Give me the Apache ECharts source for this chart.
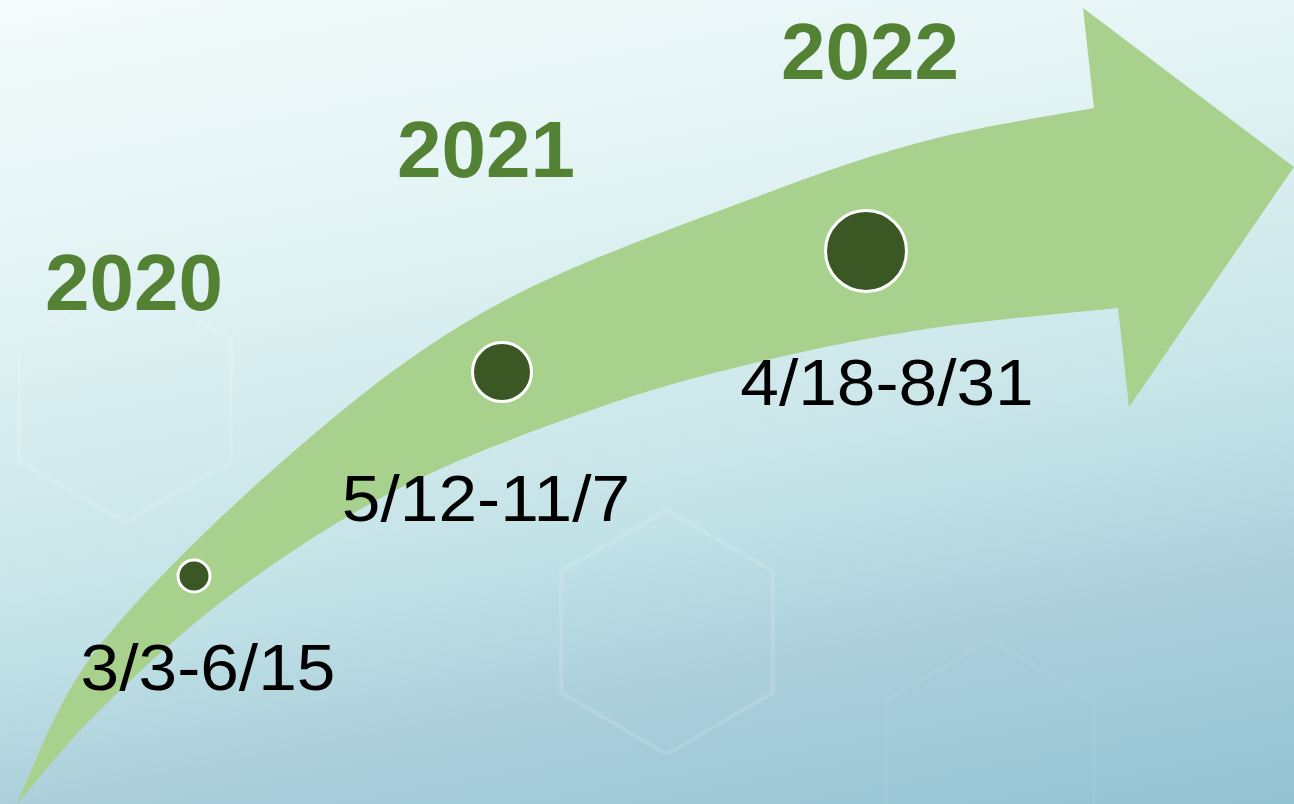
<!DOCTYPE html>
<html>
<head>
<meta charset="utf-8">
<script src="https://cdn.jsdelivr.net/npm/echarts@6/dist/echarts.min.js"></script>
<style>
html,body{margin:0;padding:0;width:1294px;height:804px;overflow:hidden;}
#chart{width:1294px;height:804px;}
</style>
</head>
<body>
<div id="chart"></div>
<script>
// ---- data ----
const years = ['2020', '2021', '2022'];
const dateRanges = ['3/3-6/15', '5/12-11/7', '4/18-8/31'];
// milestone positions on the timeline frame (x: 0-1294, y: 0-804 top-down)
const milestoneX = [194, 502, 866];
const milestoneY = [576, 372, 251];
// label anchor positions in the same frame
const yearLabelX = [134, 486, 870];
const yearLabelY = [288, 155, 57];
const dateLabelX = [208, 486, 887];
const dateLabelY = [672, 503, 387];

// ---- decoration shapes (frame coords) ----
const arrowUpperX = [17, 100, 300, 500, 767, 933, 1094];
const arrowUpperY = [803, 645, 446, 303, 193, 139, 108];
const arrowLowerX = [18, 100, 233, 400, 600, 767, 933, 1118];
const arrowLowerY = [803, 710, 593, 488, 407, 360, 328, 308];
const arrowHeadX = [1083, 1294, 1129];
const arrowHeadY = [8, 167, 407];
const hexCX = [125, 667, 990];
const hexCY = [400, 632, 760];
const hexR = [122, 122, 120];

// ---- styles ----
const markerSizes = [32, 59, 81];
const FONT = "'Liberation Sans', Arial, sans-serif";

function catmull(xs, ys, steps) {
  const pts = [];
  const n = xs.length;
  for (let i = 0; i < n - 1; i++) {
    const p0 = [xs[Math.max(i - 1, 0)], ys[Math.max(i - 1, 0)]];
    const p1 = [xs[i], ys[i]];
    const p2 = [xs[i + 1], ys[i + 1]];
    const p3 = [xs[Math.min(i + 2, n - 1)], ys[Math.min(i + 2, n - 1)]];
    for (let s = 0; s < steps; s++) {
      const t = s / steps, t2 = t * t, t3 = t2 * t;
      const f = (a, b, c, d) => 0.5 * ((2 * b) + (-a + c) * t + (2 * a - 5 * b + 4 * c - d) * t2 + (-a + 3 * b - 3 * c + d) * t3);
      pts.push([f(p0[0], p1[0], p2[0], p3[0]), f(p0[1], p1[1], p2[1], p3[1])]);
    }
  }
  pts.push([xs[n - 1], ys[n - 1]]);
  return pts;
}

const chart = echarts.init(document.getElementById('chart'));

const option = {
  backgroundColor: {
    type: 'linear', x: 0, y: 0, x2: 0.149, y2: 1.26,
    colorStops: [
      { offset: 0, color: '#f4fbfb' },
      { offset: 0.26, color: '#e4f4f5' },
      { offset: 0.53, color: '#cde7ea' },
      { offset: 0.63, color: '#c0e1e6' },
      { offset: 0.77, color: '#accfdb' },
      { offset: 1, color: '#94c3d3' }
    ]
  },
  animation: false,
  grid: { left: 0, right: 0, top: 0, bottom: 0 },
  xAxis: { type: 'value', min: 0, max: 1294, show: false },
  yAxis: { type: 'value', min: 0, max: 804, inverse: true, show: false },
  series: [
    {
      type: 'custom',
      name: 'hexagons',
      silent: true,
      z: 1,
      data: hexCX.map((x, i) => [x, hexCY[i], hexR[i]]),
      renderItem: function (params, api) {
        const cx = api.value(0), cy = api.value(1), r = api.value(2);
        const pts = [];
        for (let k = 0; k < 6; k++) {
          const a = Math.PI / 2 + k * Math.PI / 3;
          pts.push(api.coord([cx + r * Math.cos(a), cy + r * Math.sin(a)]));
        }
        return {
          type: 'polygon',
          shape: { points: pts },
          style: { fill: 'none', stroke: params.dataIndex === 2 ? 'rgba(255,255,255,0.05)' : 'rgba(255,255,255,0.13)', lineWidth: 4 }
        };
      }
    },
    {
      type: 'custom',
      name: 'arrow',
      silent: true,
      z: 2,
      data: [[0, 0]],
      renderItem: function (params, api) {
        const upper = catmull(arrowUpperX, arrowUpperY, 24);
        const lower = catmull(arrowLowerX, arrowLowerY, 24).reverse();
        const head = arrowHeadX.map((x, i) => [x, arrowHeadY[i]]);
        const all = upper.concat(head, lower).map(p => api.coord(p));
        return {
          type: 'polygon',
          shape: { points: all },
          style: { fill: '#a9d18e' }
        };
      }
    },
    {
      type: 'scatter',
      name: 'milestones',
      z: 3,
      symbol: 'circle',
      data: milestoneX.map((x, i) => ({ value: [x, milestoneY[i]], symbolSize: markerSizes[i] })),
      itemStyle: { color: '#3a5724', borderColor: '#ffffff', borderWidth: 3, opacity: 1 }
    },
    {
      type: 'scatter',
      name: 'years',
      z: 4,
      symbolSize: 0,
      itemStyle: { opacity: 1 },
      data: yearLabelX.map((x, i) => ({ value: [x, yearLabelY[i]], name: years[i] })),
      label: {
        show: true, position: 'inside', formatter: '{b}', opacity: 1,
        color: '#548235', fontFamily: FONT, fontWeight: 'bold', fontSize: 80
      }
    },
    {
      type: 'custom',
      name: 'dates',
      z: 4,
      silent: true,
      data: dateLabelX.map((x, i) => [x, dateLabelY[i], dateRanges[i]]),
      renderItem: function (params, api) {
        const p = api.coord([api.value(0), api.value(1)]);
        return {
          type: 'text',
          x: p[0], y: p[1],
          scaleX: 1.085,
          style: {
            x: 0, y: 0,
            text: dateRanges[params.dataIndex],
            fill: '#000000',
            fontFamily: FONT, fontSize: 64, fontWeight: 'normal',
            align: 'center', verticalAlign: 'middle'
          }
        };
      }
    }
  ]
};
chart.setOption(option);
</script>
</body>
</html>
